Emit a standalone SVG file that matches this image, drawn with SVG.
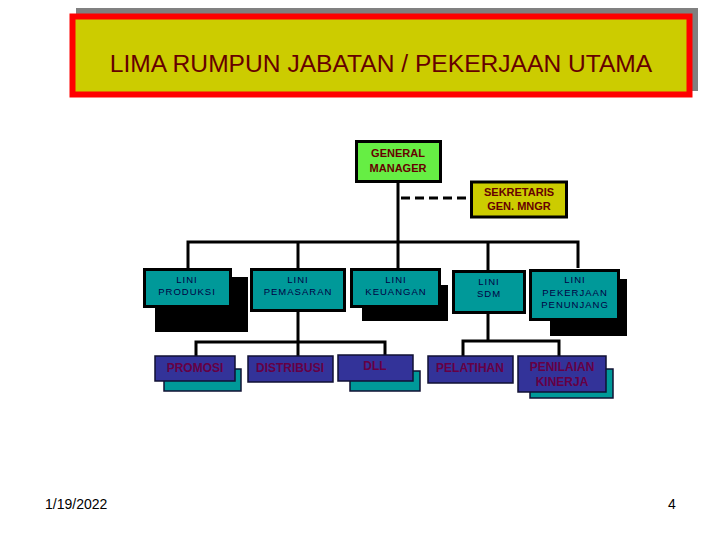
<svg xmlns="http://www.w3.org/2000/svg" width="720" height="540" viewBox="0 0 720 540">
<style>
.lbl{font-family:"Liberation Sans",Arial,sans-serif;text-anchor:middle}
.t1{font-size:11px;font-weight:bold;fill:#660000}
.t2{font-size:9.5px;fill:#000044;letter-spacing:1px}
.t3{font-size:12px;font-weight:bold;fill:#660044}
.b2{fill:#009999;stroke:#000;stroke-width:3}
.sh2{fill:#000}
.b3{fill:#333399;stroke:#111133;stroke-width:1.5}
.sh3{fill:#009999;stroke:#111133;stroke-width:1.5}
.ln{fill:none;stroke:#000;stroke-width:3}
</style>
<rect width="720" height="540" fill="#fff"/>
<g id="title">
<rect x="76" y="8" width="622" height="83" fill="#808080"/>
<rect x="72.5" y="16.5" width="617" height="78" fill="#cccc00" stroke="#ff0000" stroke-width="6"/>
<text class="lbl" x="381" y="72" font-size="24.6" fill="#660000">LIMA RUMPUN JABATAN / PEKERJAAN UTAMA</text>
</g>
<g id="connectors">
<line class="ln" x1="398" y1="182" x2="398" y2="242"/>
<line x1="401" y1="198" x2="471" y2="198" stroke="#000" stroke-width="3" stroke-dasharray="9,5"/>
<polyline class="ln" points="188,268 188,242 578,242 578,268"/>
<line class="ln" x1="298" y1="242" x2="298" y2="268"/>
<line class="ln" x1="398" y1="242" x2="398" y2="268"/>
<line class="ln" x1="488" y1="242" x2="488" y2="270"/>
<line class="ln" x1="298" y1="310" x2="298" y2="356"/>
<polyline class="ln" points="196,356 196,342 385,342 385,355"/>
<line class="ln" x1="488" y1="313" x2="488" y2="341"/>
<polyline class="ln" points="463,356 463,341 559,341 559,356"/>
</g>
<g id="gm">
<rect x="356.5" y="141.5" width="84" height="40" fill="#66ee44" stroke="#000" stroke-width="3"/>
<text class="lbl t1" x="398" y="157">GENERAL</text>
<text class="lbl t1" x="398" y="172">MANAGER</text>
</g>
<g id="sekretaris">
<rect x="471.5" y="182" width="95" height="35" fill="#cccc00" stroke="#000" stroke-width="3"/>
<text class="lbl t1" x="519" y="196">SEKRETARIS</text>
<text class="lbl t1" x="519" y="210">GEN. MNGR</text>
</g>
<g id="lini-produksi">
<rect class="sh2" x="155" y="277" width="93" height="55"/>
<rect class="b2" x="144.5" y="269.5" width="86" height="37"/>
<text class="lbl t2" x="187" y="283">LINI</text>
<text class="lbl t2" x="187" y="295">PRODUKSI</text>
</g>
<g id="lini-pemasaran">
<rect class="b2" x="251.5" y="269.5" width="93" height="41"/>
<text class="lbl t2" x="298" y="283">LINI</text>
<text class="lbl t2" x="298" y="295">PEMASARAN</text>
</g>
<g id="lini-keuangan">
<rect class="sh2" x="362" y="285" width="86" height="36"/>
<rect class="b2" x="351.5" y="269.5" width="88" height="37"/>
<text class="lbl t2" x="396" y="283">LINI</text>
<text class="lbl t2" x="396" y="295">KEUANGAN</text>
</g>
<g id="lini-sdm">
<rect class="b2" x="453.5" y="271.5" width="71" height="41"/>
<text class="lbl t2" x="489" y="285">LINI</text>
<text class="lbl t2" x="489" y="297">SDM</text>
</g>
<g id="lini-penunjang">
<rect class="sh2" x="550" y="279" width="77" height="57"/>
<rect class="b2" x="530.5" y="270.5" width="88" height="49"/>
<text class="lbl t2" x="575" y="283">LINI</text>
<text class="lbl t2" x="575" y="296">PEKERJAAN</text>
<text class="lbl t2" x="575" y="308">PENUNJANG</text>
</g>
<g id="promosi">
<rect class="sh3" x="164" y="369" width="77" height="22"/>
<rect class="b3" x="155" y="356" width="80" height="25"/>
<text class="lbl t3" x="195" y="372">PROMOSI</text>
</g>
<g id="distribusi">
<rect class="b3" x="248" y="356" width="85" height="26"/>
<text class="lbl t3" x="290" y="372">DISTRIBUSI</text>
</g>
<g id="dll">
<rect class="sh3" x="350" y="371" width="70" height="20"/>
<rect class="b3" x="338" y="355" width="75" height="26"/>
<text class="lbl t3" x="375" y="370">DLL</text>
</g>
<g id="pelatihan">
<rect class="b3" x="428" y="356" width="85" height="27"/>
<text class="lbl t3" x="470" y="372">PELATIHAN</text>
</g>
<g id="penilaian">
<rect class="sh3" x="530" y="369" width="83" height="29"/>
<rect class="b3" x="518" y="356" width="88" height="36"/>
<text class="lbl t3" x="562" y="371">PENILAIAN</text>
<text class="lbl t3" x="562" y="386">KINERJA</text>
</g>
<text x="45" y="509" font-family="'Liberation Sans',Arial,sans-serif" font-size="14" fill="#000">1/19/2022</text>
<text x="668" y="509" font-family="'Liberation Sans',Arial,sans-serif" font-size="14" fill="#000">4</text>
</svg>
